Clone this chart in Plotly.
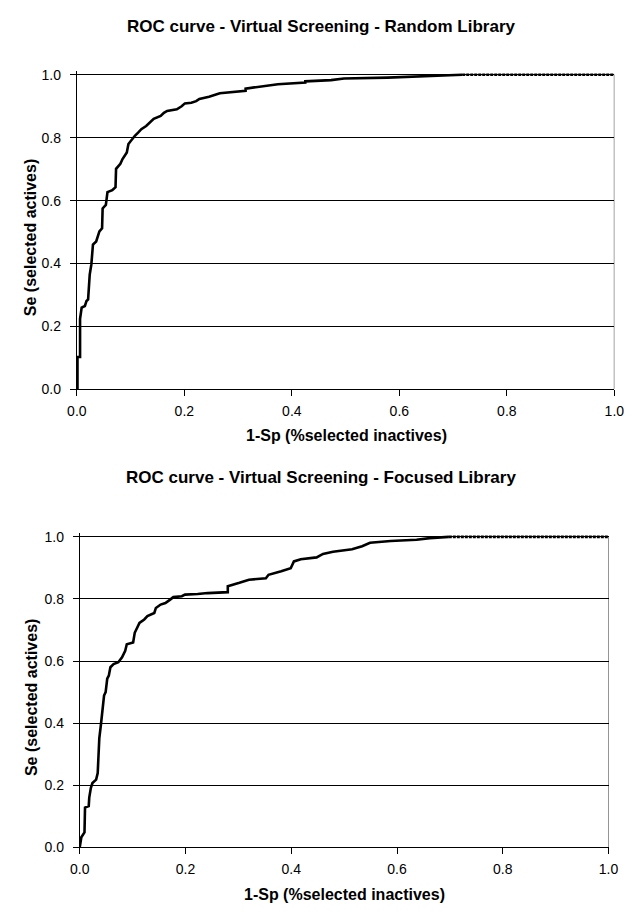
import plotly.graph_objects as go

# ---- Data ----
random_x = [0.0, 0.0012, 0.0012, 0.006, 0.006, 0.009, 0.015, 0.018, 0.021, 0.022, 0.024, 0.027,
            0.030, 0.036, 0.039, 0.042, 0.047, 0.048, 0.054, 0.057, 0.066, 0.072, 0.073, 0.081,
            0.085, 0.090, 0.093, 0.096, 0.102, 0.108, 0.114, 0.120, 0.129, 0.138, 0.143, 0.156,
            0.162, 0.168, 0.186, 0.195, 0.201, 0.213, 0.222, 0.228, 0.246, 0.266, 0.314, 0.314,
            0.341, 0.374, 0.425, 0.425, 0.473, 0.497, 0.578, 0.644, 0.717]
random_y = [0.0, 0.0, 0.103, 0.103, 0.224, 0.260, 0.265, 0.281, 0.286, 0.318, 0.365, 0.397,
            0.460, 0.470, 0.486, 0.502, 0.512, 0.575, 0.586, 0.627, 0.633, 0.643, 0.701, 0.717,
            0.732, 0.743, 0.753, 0.780, 0.795, 0.806, 0.816, 0.827, 0.837, 0.853, 0.860, 0.869,
            0.879, 0.885, 0.890, 0.900, 0.909, 0.911, 0.916, 0.923, 0.930, 0.941, 0.949, 0.956,
            0.962, 0.970, 0.975, 0.979, 0.983, 0.988, 0.991, 0.996, 1.0]
random_tail_x = [0.717, 1.0]
random_tail_y = [1.0, 1.0]

focused_x = [0.0, 0.003, 0.009, 0.010, 0.017, 0.018, 0.021, 0.024, 0.031, 0.034, 0.035, 0.037,
             0.040, 0.043, 0.046, 0.049, 0.052, 0.055, 0.058, 0.064, 0.073, 0.080, 0.086, 0.089,
             0.101, 0.104, 0.110, 0.113, 0.122, 0.128, 0.141, 0.144, 0.153, 0.162, 0.171, 0.177,
             0.193, 0.199, 0.223, 0.242, 0.280, 0.280, 0.302, 0.320, 0.352, 0.357, 0.381, 0.399,
             0.405, 0.418, 0.448, 0.460, 0.479, 0.515, 0.534, 0.549, 0.588, 0.637, 0.662, 0.698]
focused_y = [0.0, 0.032, 0.048, 0.128, 0.133, 0.160, 0.191, 0.207, 0.218, 0.239, 0.277, 0.351,
             0.394, 0.441, 0.489, 0.500, 0.543, 0.553, 0.580, 0.590, 0.596, 0.612, 0.633, 0.654,
             0.660, 0.691, 0.713, 0.723, 0.734, 0.745, 0.755, 0.771, 0.782, 0.787, 0.798, 0.806,
             0.809, 0.814, 0.816, 0.819, 0.822, 0.841, 0.852, 0.862, 0.867, 0.878, 0.889, 0.899,
             0.921, 0.928, 0.934, 0.945, 0.952, 0.960, 0.970, 0.981, 0.987, 0.991, 0.996, 1.0]
focused_tail_x = [0.698, 1.0]
focused_tail_y = [1.0, 1.0]

tick_vals = [0.0, 0.2, 0.4, 0.6, 0.8, 1.0]
tick_text = ["0.0", "0.2", "0.4", "0.6", "0.8", "1.0"]

titles = ["ROC curve - Virtual Screening - Random Library",
          "ROC curve - Virtual Screening - Focused Library"]
x_title = "1-Sp (%selected inactives)"
y_title = "Se (selected actives)"

W, H = 635, 913
FONT = "Liberation Sans, Arial, sans-serif"
Y_TOP = 1.012  # small headroom so the line at 1.0 is not clipped

fig = go.Figure()
line = dict(color="black", width=2.6)
tail = dict(color="black", width=2.6, dash="3px,1px")

fig.add_trace(go.Scatter(x=random_x, y=random_y, mode="lines", line=line, xaxis="x", yaxis="y"))
fig.add_trace(go.Scatter(x=random_tail_x, y=random_tail_y, mode="lines", line=tail, xaxis="x", yaxis="y"))
fig.add_trace(go.Scatter(x=focused_x, y=focused_y, mode="lines", line=line, xaxis="x2", yaxis="y2"))
fig.add_trace(go.Scatter(x=focused_tail_x, y=focused_tail_y, mode="lines", line=tail, xaxis="x2", yaxis="y2"))


def px_x(p):
    return p / W


def px_y(p):
    return 1 - p / H


def ydomain(p_zero, p_one):
    unit = p_zero - p_one
    return [px_y(p_zero), px_y(p_one - (Y_TOP - 1) * unit)]


tickfont = dict(family=FONT, size=14, color="black")
common_x = dict(range=[0, 1], tickvals=tick_vals, ticktext=tick_text, showgrid=False,
                showline=True, linecolor="black", linewidth=1, mirror=False,
                ticks="outside", ticklen=6, tickcolor="black", zeroline=False,
                ticklabelstandoff=3, tickfont=tickfont, fixedrange=True)
common_y = dict(range=[0, Y_TOP], tickvals=tick_vals, ticktext=tick_text, showgrid=True,
                gridcolor="black", gridwidth=1,
                showline=True, linecolor="black", linewidth=1, mirror=False,
                ticks="outside", ticklen=6, tickcolor="black", zeroline=False,
                ticklabelstandoff=6, tickfont=tickfont, fixedrange=True)

fig.update_layout(
    width=W, height=H,
    margin=dict(l=0, r=0, t=0, b=0),
    paper_bgcolor="white", plot_bgcolor="white",
    showlegend=False,
    xaxis=dict(domain=[px_x(69), px_x(624)], anchor="y", **common_x),
    yaxis=dict(domain=ydomain(390.5, 71.7), anchor="x", **common_y),
    xaxis2=dict(domain=[px_x(72), px_x(618)], anchor="y2", **common_x),
    yaxis2=dict(domain=ydomain(854.5, 540), anchor="x2", **common_y),
)

# right-hand frame lines (from 0 to 1 on each plot)
frame = dict(color="#333333", width=1)
fig.add_shape(type="line", xref="x", yref="y", x0=1, x1=1, y0=0, y1=1, line=frame, layer="below")
fig.add_shape(type="line", xref="x2", yref="y2", x0=1, x1=1, y0=0, y1=1, line=frame, layer="below")

title_font = dict(family=FONT, size=17, color="black")
axt_font = dict(family=FONT, size=16, color="black")
annotations = [
    dict(text="<b>%s</b>" % titles[0], x=px_x(321), y=px_y(23), font=title_font),
    dict(text="<b>%s</b>" % titles[1], x=px_x(321), y=px_y(480), font=title_font),
    dict(text="<b>%s</b>" % x_title, x=px_x(347), y=px_y(437), font=axt_font),
    dict(text="<b>%s</b>" % x_title, x=px_x(345), y=px_y(902), font=axt_font),
    dict(text="<b>%s</b>" % y_title, x=px_x(22), y=px_y(237), textangle=-90, font=axt_font),
    dict(text="<b>%s</b>" % y_title, x=px_x(22), y=px_y(703), textangle=-90, font=axt_font),
]
for a in annotations:
    a.update(xref="paper", yref="paper", showarrow=False, xanchor="center", yanchor="middle")
fig.update_layout(annotations=annotations)

fig.write_html("out.html")
